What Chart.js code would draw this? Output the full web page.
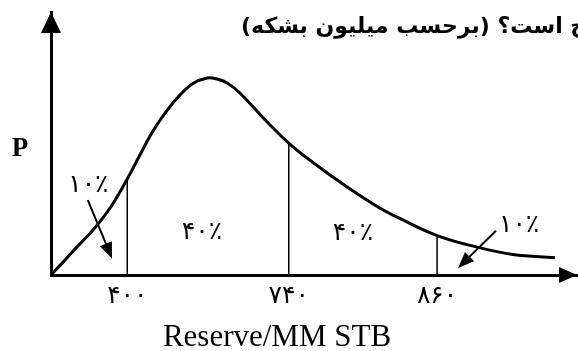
<!DOCTYPE html>
<html><head><meta charset="utf-8">
<script src="https://cdn.jsdelivr.net/npm/chart.js@4"></script>
<style>html,body{margin:0;padding:0;background:#fff}#wrap{width:578px;height:351px}</style>
</head><body><div id="wrap"><canvas id="c" width="578" height="351"></canvas></div>
<script>
// Schematic curve (x: 0–100 along the axis, y: 0–100 relative density)
const curveX = [0, 2.3, 4.9, 7.4, 9.3, 11.8, 14.5, 16.9, 19.4, 22.1, 24.5, 27.0, 29.7, 31.6, 33.5, 35.9, 41.1, 45.4, 49.8, 56.3, 62.5, 66.3, 73.4, 81.6, 87.8, 95.8];
const curveY = [0, 4.9, 10.6, 15.8, 20.3, 27.2, 36.5, 45.6, 54.8, 62.7, 68.4, 72.8, 74.9, 74.5, 73.0, 69.2, 58.2, 49.8, 42.8, 33.5, 25.5, 21.5, 15.0, 10.3, 7.8, 6.6];
// Cut-off lines (P90, P50, P10) and their tick labels
const cutoffX = [14.5, 45.2, 73.4];
const cutoffTop = [36.5, 50.2, 15.0];
const cutoffLabels = ['۴۰۰', '۷۴۰', '۸۶۰'];
// Probability shares of each region
const shareLabels = ['۱۰٪', '۴۰٪', '۴۰٪', '۱۰٪'];
const xTitle = 'Reserve/MM STB';
const yTitle = 'P';
const questionText = 'ح است؟ (برحسب میلیون بشکه)';

// layout of annotations (in chart units)
const sharePos = [[7.1, 34.2], [28.7, 16.3], [57.4, 15.6], [89.0, 19.0]];
const arrowPos = [[7.0, 28.5, 11.6, 6.3], [84.6, 16.8, 77.4, 2.7]];

const curveData = curveX.map((x, i) => ({x, y: curveY[i]}));
const datasets = [{
  data: curveData, borderColor: '#000', borderWidth: 3, pointRadius: 0,
  tension: 0.4, showLine: true, fill: false, clip: false
}];
cutoffX.forEach((x, i) => {
  datasets.push({data: [{x, y: 0}, {x, y: cutoffTop[i]}], borderColor: '#000', borderWidth: 1.5,
    pointRadius: 0, showLine: true, fill: false, clip: false});
});

function arrowHead(ctx, x1, y1, x2, y2, len, half) {
  const a = Math.atan2(y2 - y1, x2 - x1);
  ctx.beginPath();
  ctx.moveTo(x2, y2);
  ctx.lineTo(x2 - len * Math.cos(a) + half * Math.sin(a), y2 - len * Math.sin(a) - half * Math.cos(a));
  ctx.lineTo(x2 - len * Math.cos(a) - half * Math.sin(a), y2 - len * Math.sin(a) + half * Math.cos(a));
  ctx.closePath();
  ctx.fill();
}

const decor = {
  id: 'decor',
  afterDraw(chart) {
    const {ctx, chartArea: ca, scales: {x, y}} = chart;
    ctx.save();
    ctx.fillStyle = '#000'; ctx.strokeStyle = '#000';
    // axis arrowheads
    arrowHead(ctx, ca.left, ca.bottom, ca.left, ca.top, 21, 10);
    arrowHead(ctx, ca.left, ca.bottom, ca.right, ca.bottom, 18, 8);
    // y label
    ctx.font = 'bold 27px "Liberation Serif"';
    ctx.textAlign = 'center'; ctx.textBaseline = 'middle';
    ctx.fillText(yTitle, 20, 149);
    // x title
    ctx.font = '31px "Liberation Serif"';
    ctx.textBaseline = 'alphabetic';
    ctx.fillText(xTitle, 277, 346);
    // share labels
    ctx.textBaseline = 'middle';
    ctx.font = '25px "DejaVu Sans"';
    shareLabels.forEach((t, i) => {
      ctx.fillText(t, x.getPixelForValue(sharePos[i][0]), y.getPixelForValue(sharePos[i][1]));
    });
    // arrows
    ctx.lineWidth = 2;
    arrowPos.forEach(a => {
      const x1 = x.getPixelForValue(a[0]), y1 = y.getPixelForValue(a[1]);
      const x2 = x.getPixelForValue(a[2]), y2 = y.getPixelForValue(a[3]);
      const ang = Math.atan2(y2 - y1, x2 - x1);
      ctx.beginPath(); ctx.moveTo(x1, y1);
      ctx.lineTo(x2 - 10 * Math.cos(ang), y2 - 10 * Math.sin(ang)); ctx.stroke();
      arrowHead(ctx, x1, y1, x2, y2, 16, 6.5);
    });
    // cut-off question text
    ctx.font = 'bold 22px "DejaVu Sans"';
    ctx.direction = 'rtl';
    ctx.textAlign = 'left';
    ctx.fillText(questionText, 241, 27);
    ctx.restore();
  }
};

new Chart(document.getElementById('c'), {
  type: 'scatter',
  data: {datasets},
  options: {
    responsive: false, devicePixelRatio: 1, animation: false,
    layout: {padding: {left: 0, right: 1, top: 12, bottom: 0}},
    plugins: {legend: {display: false}, tooltip: {enabled: false}, title: {display: false}},
    scales: {
      x: {
        type: 'linear', min: 0, max: 100,
        grid: {display: false, drawTicks: false},
        border: {display: true, color: '#000', width: 3},
        afterBuildTicks: s => { s.ticks = cutoffX.map(v => ({value: v})); },
        ticks: {
          autoSkip: false, maxRotation: 0, padding: 6, color: '#000',
          font: {family: 'DejaVu Sans', size: 25},
          callback: (v) => cutoffLabels[cutoffX.indexOf(v)]
        },
        title: {display: false},
        afterFit: s => { s.height = 76; }
      },
      y: {
        type: 'linear', min: 0, max: 100,
        grid: {display: false, drawTicks: false},
        border: {display: true, color: '#000', width: 3},
        ticks: {display: false},
        afterFit: s => { s.width = 51; }
      }
    }
  },
  plugins: [decor]
});
</script>
</body></html>
